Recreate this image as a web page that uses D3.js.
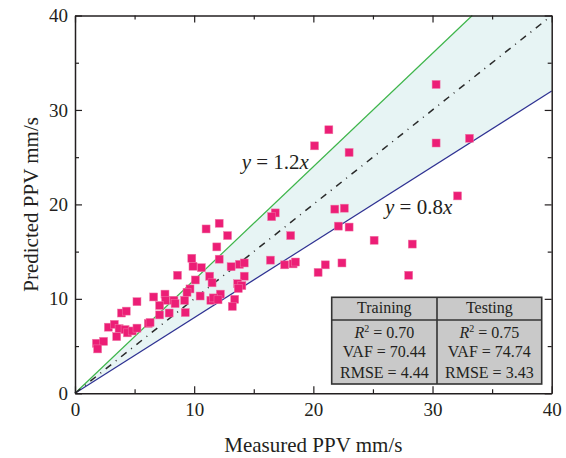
<!DOCTYPE html>
<html>
<head>
<meta charset="utf-8">
<script src="https://cdn.jsdelivr.net/npm/d3@7"></script>
<style>
  body { margin: 0; background: #fff; }
  svg { font-family: "Liberation Serif", "Times New Roman", serif; }
</style>
</head>
<body>
<div id="chart"></div>
<script>
// measured vs predicted PPV (mm/s)
let measured = [
    30.3, 30.3, 33.1, 32.1, 25.1, 28.3, 28.0,
    21.3, 20.1, 23.0,
    16.8, 16.5, 21.8, 22.6, 22.1, 23.0, 18.1,
    16.4, 17.6, 18.3, 18.5, 21.0, 22.4, 20.4,
    12.1, 11.0, 12.8, 11.9, 12.1, 9.8, 9.9, 10.6, 8.6, 13.1,
    13.8, 14.2, 14.2, 11.3, 11.5, 13.65, 14.0, 13.7, 10.1, 9.65,
    9.4, 7.55, 10.5, 12.2, 11.4, 11.6, 12.0, 13.4, 13.2, 6.6,
    7.6, 8.3, 7.1, 8.4, 9.2, 9.25, 5.2,
    7.1, 7.9, 3.9, 4.3, 6.15, 6.3, 2.8, 3.3, 3.7, 4.2,
    4.4, 4.8, 5.2, 3.5, 1.8, 2.4, 1.9
];
let predicted = [
    32.7, 26.5, 27.0, 20.9, 16.2, 15.8, 12.5,
    27.9, 26.2, 25.5,
    19.1, 18.7, 19.5, 19.6, 17.7, 17.6, 16.7,
    14.1, 13.6, 13.7, 13.9, 13.6, 13.8, 12.8,
    18.0, 17.4, 16.7, 15.5, 14.2, 14.3, 13.45, 13.3, 12.5, 13.4,
    13.65, 13.8, 12.4, 12.4, 11.7, 11.6, 11.4, 11.1, 12.0, 11.05,
    10.7, 10.5, 10.3, 10.5, 9.85, 10.1, 9.9, 9.95, 9.2, 10.2,
    9.85, 9.85, 9.3, 9.5, 9.85, 8.55, 9.7,
    8.3, 8.5, 8.5, 8.7, 7.4, 7.5, 7.0, 7.3, 6.85, 6.75,
    6.4, 6.6, 6.9, 6.0, 5.3, 5.5, 4.7
];
let majorTicks = [0, 10, 20, 30, 40];
let minorTicks = [5, 15, 25, 35];
let boundSlopes = [1.2, 0.8];
let boundLabels = ["1.2", "0.8"];
let tableHeads = ["Training", "Testing"];
let r2 = ["0.70", "0.75"];
let vaf = ["70.44", "74.74"];
let rmse = ["4.44", "3.43"];

let width = 566, height = 458;
let svg = d3.select("#chart").append("svg")
    .attr("width", width)
    .attr("height", height);

let x = d3.scaleLinear().domain([0, 40]).range([75, 551.7]);
let y = d3.scaleLinear().domain([0, 40]).range([393.3, 15.5]);
let ink = "#231f20";

// shaded band between y = 1.2x and y = 0.8x
let band = [[0, 0], [40 / boundSlopes[0], 40], [40, 40], [40, 40 * boundSlopes[1]]];
svg.append("path")
    .attr("d", d3.line().x(d => x(d[0])).y(d => y(d[1]))(band) + "Z")
    .attr("fill", "#e7f4f4");

// reference lines
svg.append("line")
    .attr("x1", x(0)).attr("y1", y(0))
    .attr("x2", x(40 / boundSlopes[0])).attr("y2", y(40))
    .attr("stroke", "#3db54a").attr("stroke-width", 1.2);
svg.append("line")
    .attr("x1", x(0)).attr("y1", y(0))
    .attr("x2", x(40)).attr("y2", y(40 * boundSlopes[1]))
    .attr("stroke", "#2e3192").attr("stroke-width", 1.2);
svg.append("line")
    .attr("x1", x(0)).attr("y1", y(0))
    .attr("x2", x(40)).attr("y2", y(40))
    .attr("stroke", "#2a2a2a").attr("stroke-width", 1.5)
    .attr("stroke-dasharray", "7,5.8,1,5.8");

// data points
let sq = 8;
svg.append("g").selectAll("rect")
    .data(measured.map((m, i) => [m, predicted[i]]))
    .join("rect")
    .attr("x", d => x(d[0]) - sq / 2)
    .attr("y", d => y(d[1]) - sq / 2)
    .attr("width", sq)
    .attr("height", sq)
    .attr("fill", "#ec1e76")
    .attr("stroke", "#f07aa8")
    .attr("stroke-width", 0.5);

// frame with inward ticks on all four sides
function frameAxis(axisFn, scale, ticks, size, transform, labels) {
    let g = svg.append("g")
        .attr("transform", transform)
        .call(axisFn(scale).tickValues(ticks).tickSizeInner(-size).tickSizeOuter(0)
            .tickFormat(labels ? d3.format("d") : ""));
    g.select(".domain").attr("stroke", ink).attr("stroke-width", 1.5);
    g.selectAll(".tick line").attr("stroke", ink).attr("stroke-width", 1.2);
    g.selectAll(".tick text")
        .attr("fill", ink)
        .attr("font-size", 19)
        .attr("font-family", "Liberation Serif, serif");
    return g;
}
let bx = frameAxis(d3.axisBottom, x, majorTicks, 7, "translate(0," + y(0) + ")", true);
bx.selectAll(".tick text").attr("dy", "1.05em");
frameAxis(d3.axisBottom, x, minorTicks, 4, "translate(0," + y(0) + ")", false).select(".domain").remove();
let ly = frameAxis(d3.axisLeft, y, majorTicks, 7, "translate(" + x(0) + ",0)", true);
ly.selectAll(".tick text").attr("x", -7);
frameAxis(d3.axisLeft, y, minorTicks, 4, "translate(" + x(0) + ",0)", false).select(".domain").remove();
frameAxis(d3.axisTop, x, majorTicks, 7, "translate(0," + y(40) + ")", false);
frameAxis(d3.axisTop, x, minorTicks, 4, "translate(0," + y(40) + ")", false).select(".domain").remove();
frameAxis(d3.axisRight, y, majorTicks, 7, "translate(" + x(40) + ",0)", false);
frameAxis(d3.axisRight, y, minorTicks, 4, "translate(" + x(40) + ",0)", false).select(".domain").remove();

// axis titles
svg.append("text")
    .attr("x", (x(0) + x(40)) / 2)
    .attr("y", 452)
    .attr("text-anchor", "middle")
    .attr("font-size", 21)
    .attr("fill", ink)
    .text("Measured PPV mm/s");
svg.append("text")
    .attr("transform", "translate(38," + ((y(0) + y(40)) / 2) + ") rotate(-90)")
    .attr("text-anchor", "middle")
    .attr("font-size", 21)
    .attr("fill", ink)
    .text("Predicted PPV mm/s");

// line labels
let labelPos = [[241.7, 169], [385, 214]];
boundLabels.forEach((b, i) => {
    let t = svg.append("text")
        .attr("x", labelPos[i][0])
        .attr("y", labelPos[i][1])
        .attr("font-size", 21)
        .attr("fill", ink);
    t.append("tspan").attr("font-style", "italic").text("y");
    t.append("tspan").text(" = " + b);
    t.append("tspan").attr("font-style", "italic").text("x");
});

// statistics table
let tx0 = 331.7, tx1 = 541.7, tmid = 437, ty0 = 297.3, ty1 = 384, thead = 320;
svg.append("rect")
    .attr("x", tx0).attr("y", ty0)
    .attr("width", tx1 - tx0).attr("height", ty1 - ty0)
    .attr("fill", "#c9c9c9")
    .attr("stroke", "#333").attr("stroke-width", 1.6);
svg.append("line")
    .attr("x1", tx0).attr("x2", tx1).attr("y1", thead).attr("y2", thead)
    .attr("stroke", "#333").attr("stroke-width", 1.6);
svg.append("line")
    .attr("x1", tmid).attr("x2", tmid).attr("y1", ty0).attr("y2", ty1)
    .attr("stroke", "#333").attr("stroke-width", 1.6);

let colCenters = [(tx0 + tmid) / 2, (tmid + tx1) / 2];
tableHeads.forEach((h, i) => {
    let cx = colCenters[i];
    svg.append("text").attr("x", cx).attr("y", 313)
        .attr("text-anchor", "middle").attr("font-size", 16).attr("fill", ink)
        .text(h);
    let r = svg.append("text").attr("x", cx).attr("y", 338)
        .attr("text-anchor", "middle").attr("font-size", 16).attr("fill", ink);
    r.append("tspan").attr("font-style", "italic").text("R");
    r.append("tspan").attr("font-size", 10).attr("dy", -6).text("2");
    r.append("tspan").attr("dy", 6).text(" = " + r2[i]);
    svg.append("text").attr("x", cx).attr("y", 357)
        .attr("text-anchor", "middle").attr("font-size", 16).attr("fill", ink)
        .text("VAF = " + vaf[i]);
    svg.append("text").attr("x", cx).attr("y", 378)
        .attr("text-anchor", "middle").attr("font-size", 16).attr("fill", ink)
        .text("RMSE = " + rmse[i]);
});
</script>
</body>
</html>
